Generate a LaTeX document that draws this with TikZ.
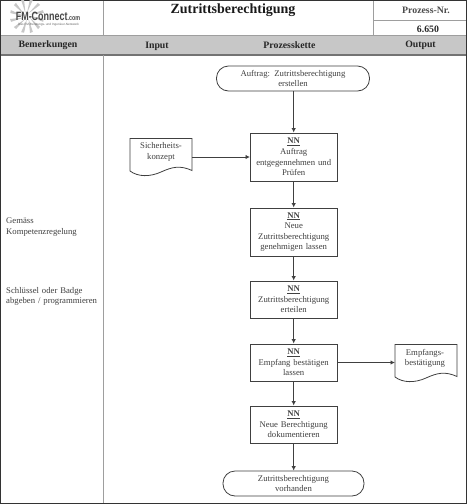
\documentclass[tikz,border=0pt]{standalone}
\usepackage{fontspec}
\setmainfont{Liberation Serif}
\newfontfamily\logofont{Liberation Sans}
\definecolor{rulegray}{gray}{0.62}
\definecolor{band}{gray}{0.78}
\definecolor{ink}{gray}{0.25}
\usetikzlibrary{arrows.meta}
\tikzset{
  body/.style={font=\fontsize{8.7}{10.6}\selectfont,text=ink,align=center},
  headtext/.style={font=\bfseries\fontsize{9.8}{11}\selectfont,text=black!85},
  stepbox/.style={body,draw=ink,line width=0.9pt,minimum width=86.5pt,inner sep=1pt,text width=84pt},
  term/.style={body,draw=ink,line width=0.8pt,rounded corners=12pt,inner sep=1pt},
  flow/.style={draw=ink,line width=0.9pt,-{Latex[length=4.5pt,width=4.5pt]}},
  grid/.style={draw=rulegray,line width=1pt},
  note/.style={body,align=left,anchor=north west,text width=96pt,inner sep=0pt},
  docshape/.style={draw=ink,line width=0.8pt,fill=white},
  docpos/.style={body,text width=60pt,inner sep=0pt},
}
\begin{document}
\begin{tikzpicture}[x=1pt,y=-1pt]
\useasboundingbox (0,0) rectangle (467,504);
\fill[white] (0,0) rectangle (467,504);
% header band
\fill[band] (1,35) rectangle (466,55);
\draw[grid] (1,35) -- (466,35);
\draw[grid,line width=1.2pt,draw=black!55] (1,55) -- (466,55);
\draw[grid] (103,0) -- (103,35);
\draw[grid] (103,55) -- (103,503);
\draw[grid] (373.5,0) -- (373.5,35);
\draw[grid] (373.5,20) -- (466,20);
% outer frame
\draw[draw=black!80,line width=1.3pt] (0.7,0) -- (0.7,503.3) -- (466.3,503.3) -- (466.3,0);
\draw[draw=black!80,line width=1pt] (0.7,0.3) -- (466.3,0.3);
% logo
\foreach \a in {0,30,...,330}
  \fill[black!22] (27,16) ++(\a:3) -- ++(\a+12:14) -- ++(\a+100:3) -- cycle;
\node (logo) at (48,16) [font=\logofont\bfseries\fontsize{11.5}{11.5}\selectfont,text=black!72,inner sep=0pt] {\scalebox{0.78}[1.05]{FM-Connect\scalebox{0.6}{.com}}};
\node (logosub) at (48.5,24.5) [font=\logofont\fontsize{3.1}{4}\selectfont,text=black!60,inner sep=0pt] {Das FM-Beratungs- und Ingenieur-Netzwerk};
% titles
\node (title) at (233,9.8) [font=\bfseries\fontsize{14}{15}\selectfont,text=black!90,inner sep=0pt] {Zutrittsberechtigung};
\node (pnr) at (426,10.5) [headtext,text=black!70,inner sep=0pt] {Prozess-Nr.};
\node (pval) at (428,29) [headtext,inner sep=0pt] {6.650};
\node (h1) at (48,45.5) [headtext,inner sep=0pt] {Bemerkungen};
\node (h2) at (157,46) [headtext,inner sep=0pt] {Input};
\node (h3) at (289.5,45.5) [headtext,inner sep=0pt] {Prozesskette};
\node (h4) at (420.5,45.5) [headtext,inner sep=0pt] {Output};
% notes
\node (n1) at (6,218) [note] {Gemäss\\Kompetenzregelung};
\node (n2) at (6,287) [note] {Schlüssel oder Badge\\abgeben / programmieren};
% process
\node (start) at (293,78.5) [term,minimum width=153pt,minimum height=25pt] {Auftrag:\ \ Zutrittsberechtigung\\erstellen};
\node (b1) at (293.7,157) [stepbox,minimum height=48pt] {\textbf{\underline{NN}}\\Auftrag\\entgegennehmen und\\Prüfen};
\node (b2) at (293.7,232) [stepbox,minimum height=48pt] {\textbf{\underline{NN}}\\Neue\\Zutrittsberechtigung\\genehmigen lassen};
\node (b3) at (293.7,299.5) [stepbox,minimum height=37pt] {\textbf{\underline{NN}}\\Zutrittsberechtigung\\erteilen};
\node (b4) at (293.7,362.5) [stepbox,minimum height=37pt] {\textbf{\underline{NN}}\\Empfang bestätigen\\lassen};
\node (b5) at (293.7,424.5) [stepbox,minimum height=37pt] {\textbf{\underline{NN}}\\Neue Berechtigung\\dokumentieren};
\node (end) at (293.5,483.5) [term,minimum width=141pt,minimum height=25pt] {Zutrittsberechtigung\\vorhanden};
% documents
\draw[docshape] (130,138.5) -- (192,138.5) -- (192,170.5)
  .. controls (180,165) and (172,167) .. (161,172)
  .. controls (150,177) and (138,177) .. (130,171) -- cycle;
\coordinate (d1r) at (192,157);
\node (d1) at (161,152) [docpos] {Sicherheits-\\konzept};
\draw[docshape] (395,344.5) -- (457,344.5) -- (457,376.5)
  .. controls (445,371) and (437,373) .. (426,378)
  .. controls (415,383) and (403,383) .. (395,377) -- cycle;
\coordinate (d2l) at (395,362.5);
\node (d2) at (425,358.5) [docpos] {Empfangs-\\bestätigung};
% connectors
\draw[flow] (start.south -| b1) -- (b1.north);
\draw[flow] (b1) -- (b2);
\draw[flow] (b2) -- (b3);
\draw[flow] (b3) -- (b4);
\draw[flow] (b4) -- (b5);
\draw[flow] (b5.south) -- (b5.south |- end.north);
\draw[flow] (d1r) -- (b1.west |- d1r);
\draw[flow] (b4.east) -- (d2l);
\end{tikzpicture}
\end{document}
